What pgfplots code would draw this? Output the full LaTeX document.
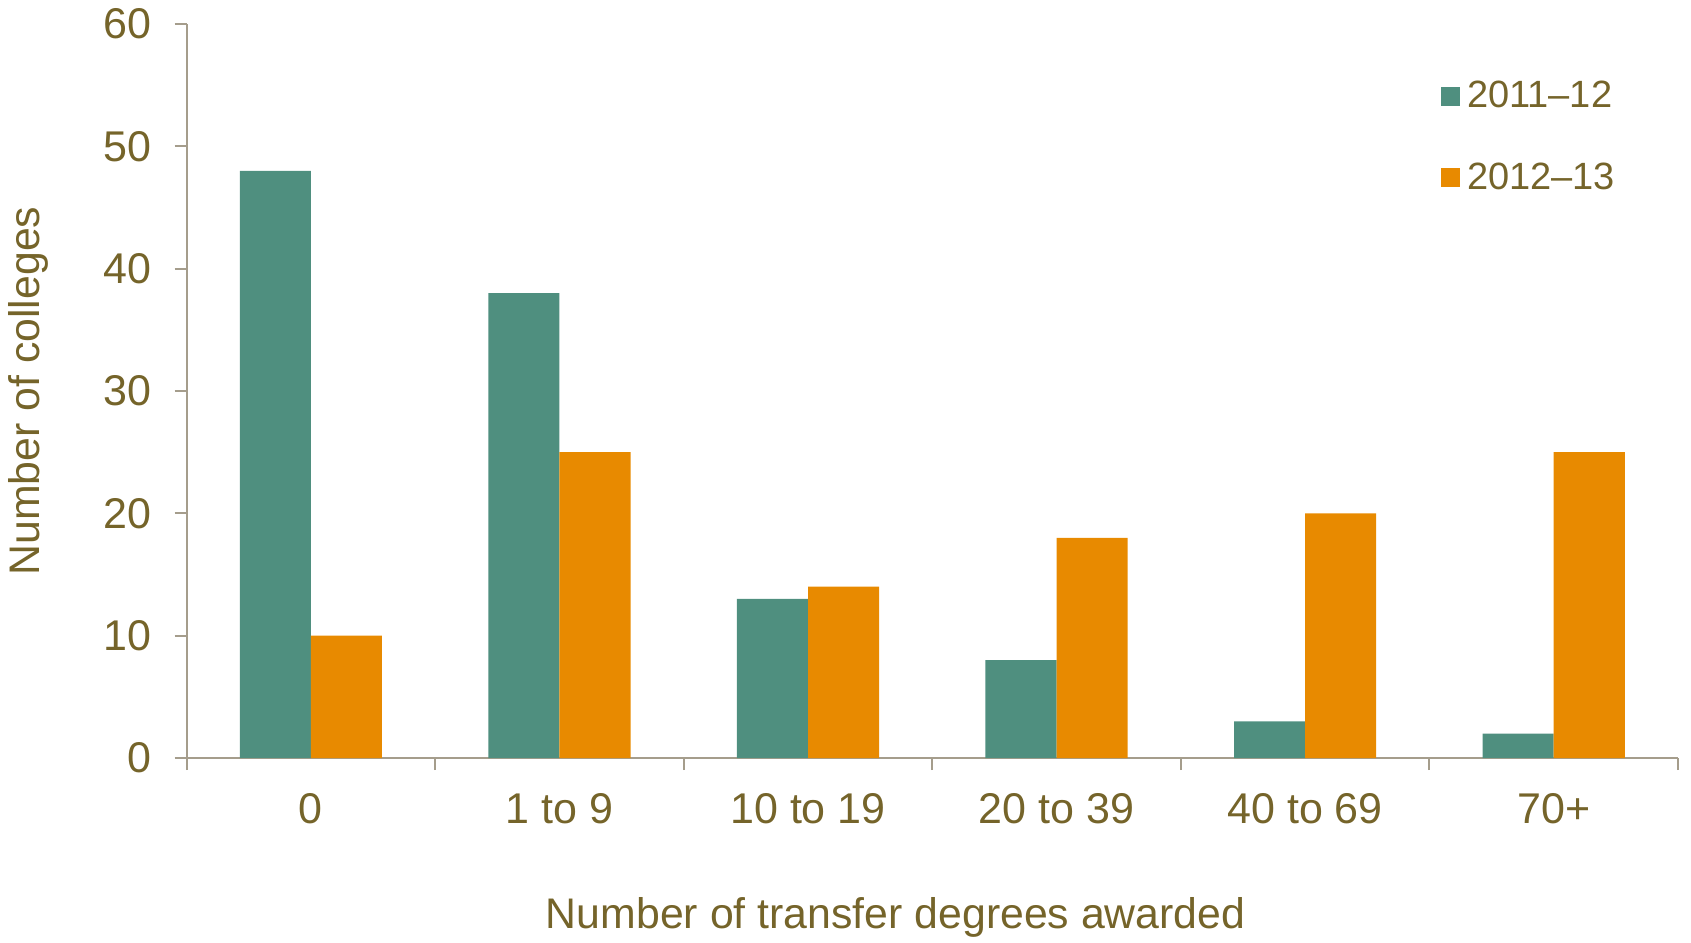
\documentclass[border=0pt]{standalone}
\usepackage{fontspec}
\setmainfont{Liberation Sans}
\usepackage{pgfplots}
\pgfplotsset{compat=1.18}
\definecolor{teal1}{HTML}{4F8F7F}
\definecolor{orange1}{HTML}{E88A00}
\definecolor{txt}{HTML}{75642A}
\definecolor{axl}{HTML}{A59D8C}
\begin{document}
\begin{tikzpicture}
\useasboundingbox (-93.3pt,-92pt) rectangle (752.2pt,379pt);
\begin{axis}[
  at={(0,0)}, anchor=south west,
  scale only axis, width=745.7pt, height=367pt,
  ybar=0pt, bar width=0.286,
  xmin=-0.5, xmax=5.5, ymin=0, ymax=60,
  enlargelimits=false,
  axis lines*=left,
  axis line style={draw=axl, line width=1pt},
  every tick/.style={draw=axl, line width=1pt},
  xtick={0,1,2,3,4,5},
  xticklabels={0,1 to 9,10 to 19,20 to 39,40 to 69,70+},
  major x tick style={draw=none},
  minor xtick={-0.5,0.5,1.5,2.5,3.5,4.5,5.5},
  minor tick length=6pt,
  ytick={0,10,20,30,40,50,60},
  major tick length=6pt,
  tick align=outside,
  x tick label style={yshift=-8pt},
  y tick label style={xshift=-8.2pt},
  /pgf/number format/assume math mode=true,
  tick label style={font=\fontsize{21.5}{25}\selectfont, text=txt},
  label style={font=\fontsize{21.4}{25}\selectfont, text=txt},
  xlabel={Number of transfer degrees awarded},
  ylabel={Number of colleges},
  xlabel style={at={(axis description cs:0.5,0)}, anchor=center, yshift=-79.6pt, xshift=-18.3pt},
  ylabel style={at={(axis description cs:0,0.5)}, anchor=center, yshift=79pt},
  legend style={at={(axis description cs:0.8406,0.928)}, anchor=north west, draw=none, fill=none, inner sep=0pt,
    font=\fontsize{19}{22}\selectfont, text=txt, row sep=22pt},
  legend image code/.code={\fill[#1] (0pt,-4.75pt) rectangle (9.5pt,4.75pt); \path (11.2pt,0pt);},
  legend cell align=left,
]
\addplot[fill=teal1, draw=none] coordinates {(0,48) (1,38) (2,13) (3,8) (4,3) (5,2)};
\addplot[fill=orange1, draw=none] coordinates {(0,10) (1,25) (2,14) (3,18) (4,20) (5,25)};
\legend{2011--12, 2012--13}
\end{axis}
\end{tikzpicture}
\end{document}
